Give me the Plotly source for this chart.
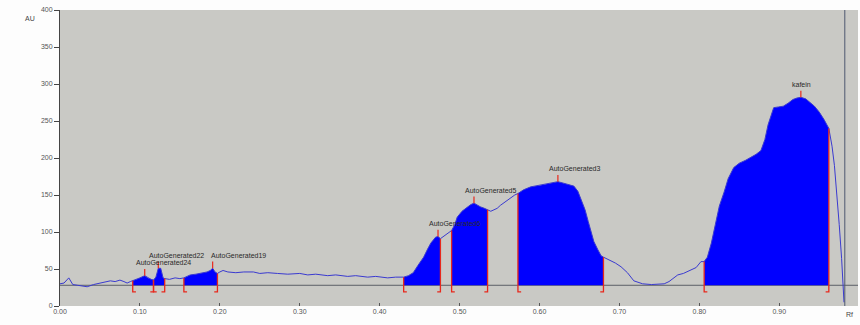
import numpy as np
import plotly.graph_objects as go

# ---- data ----
rf = [0.000, 0.005, 0.011, 0.016, 0.022, 0.028, 0.034, 0.042, 0.050, 0.057, 0.063, 0.069, 0.075, 0.080, 0.084, 0.088,
      0.091, 0.096, 0.100, 0.106, 0.110, 0.114, 0.117,
      0.120, 0.123, 0.126, 0.129, 0.131,
      0.137, 0.144, 0.150, 0.155,
      0.159, 0.163, 0.170, 0.175, 0.180, 0.184, 0.188, 0.191, 0.194, 0.197,
      0.200, 0.204, 0.210, 0.220, 0.230, 0.242, 0.250, 0.260, 0.272, 0.285, 0.300, 0.310, 0.320, 0.335, 0.345,
      0.360, 0.370, 0.385, 0.395, 0.410, 0.420,
      0.430, 0.436, 0.442, 0.448, 0.455, 0.460, 0.464, 0.470, 0.473, 0.476,
      0.480, 0.485, 0.490,
      0.494, 0.497, 0.503, 0.510, 0.514, 0.518, 0.522, 0.526, 0.531, 0.535,
      0.539, 0.543, 0.547, 0.551, 0.557, 0.564, 0.569, 0.573,
      0.580, 0.589, 0.600, 0.610, 0.617, 0.623, 0.630, 0.637, 0.643, 0.648, 0.652, 0.657, 0.661, 0.665, 0.668,
      0.673, 0.677, 0.680,
      0.688, 0.695, 0.702, 0.710, 0.718, 0.724, 0.729, 0.740, 0.750, 0.756, 0.762, 0.768, 0.773, 0.780, 0.789,
      0.796, 0.802, 0.806,
      0.810, 0.815, 0.820, 0.825, 0.831, 0.836, 0.843, 0.850, 0.858, 0.865, 0.871, 0.877, 0.882, 0.886, 0.890,
      0.893, 0.899, 0.905, 0.911, 0.917, 0.922, 0.927, 0.933, 0.938, 0.944, 0.950, 0.956, 0.962,
      0.966, 0.969, 0.972, 0.975, 0.978, 0.980, 0.981]
au = [30, 31, 38, 29, 28, 27, 26, 29, 31, 32, 34, 33, 35, 33, 31, 33,
      34, 36, 38, 41, 38, 36, 35,
      39, 51, 51, 38, 37,
      36, 38, 37, 38,
      40, 42, 43, 44, 45, 46, 48, 51, 46, 44,
      46, 48, 46, 45, 46, 46, 44, 45, 44, 43, 44, 42, 43, 41, 42,
      40, 41, 39, 40, 38, 39,
      39, 41, 45, 55, 66, 77, 85, 93, 94, 91,
      94, 98, 102,
      110, 120, 128, 134, 137, 139, 136, 134, 132, 130,
      128, 130, 132, 136, 141, 147, 150, 152,
      157, 161, 163, 165, 166, 168, 166, 164, 162, 155, 145, 130, 114, 100, 87,
      76, 68, 66,
      62, 58, 53, 45, 34, 32, 30, 29, 29, 30, 33, 38, 42, 44, 48,
      52, 60, 60,
      66, 85, 110, 135, 154, 172, 187, 193, 197, 201, 205, 210, 225, 245, 258,
      268, 269, 270, 274, 279, 281, 282, 280, 276, 270, 262, 252, 240,
      216, 190, 154, 110, 64, 20, 5]

peak_names = ["AutoGenerated24", "AutoGenerated22", "AutoGenerated19", "AutoGenerated6",
              "AutoGenerated5", "AutoGenerated3", "kafein"]
peak_start = [0.091, 0.117, 0.155, 0.430, 0.490, 0.573, 0.806]
peak_end = [0.117, 0.131, 0.197, 0.476, 0.535, 0.680, 0.962]
peak_apex = [0.106, 0.123, 0.191, 0.473, 0.518, 0.623, 0.927]
baseline_au = 28
front_rf = 0.982

x_ticks = [0.00, 0.10, 0.20, 0.30, 0.40, 0.50, 0.60, 0.70, 0.80, 0.90]
y_ticks = [0, 50, 100, 150, 200, 250, 300, 350, 400]

# ---- drawing ----
X = np.array(rf)
Y = np.array(au, dtype=float)

def y_at(v):
    return float(Y[np.argmin(np.abs(X - v))])

RED = "#e8281c"
FONT = "Liberation Sans, Arial, sans-serif"

fig = go.Figure()

# baseline
fig.add_trace(go.Scatter(x=[X[0], 1.0], y=[baseline_au, baseline_au], mode="lines",
                         line=dict(color="#5a5e66", width=1), hoverinfo="skip", showlegend=False))

# filled peaks
for s, e in zip(peak_start, peak_end):
    m = (X >= s - 1e-9) & (X <= e + 1e-9)
    px_ = [s] + list(X[m]) + [e]
    py_ = [baseline_au] + list(Y[m]) + [baseline_au]
    fig.add_trace(go.Scatter(x=px_, y=py_, mode="lines", fill="toself", fillcolor="#0000ff",
                             line=dict(width=0, color="#0000ff"), hoverinfo="skip", showlegend=False))

# trace line
fig.add_trace(go.Scatter(x=X, y=Y, mode="lines", line=dict(color="#3a3ad0", width=1),
                         hoverinfo="skip", showlegend=False))

# boundary markers
bx, by = [], []
foot = 0.004
drop = 9
for s, e in zip(peak_start, peak_end):
    for b, d in ((s, 1), (e, -1)):
        bx += [b, b, b + d * foot, None]
        by += [y_at(b), baseline_au - drop, baseline_au - drop, None]
fig.add_trace(go.Scatter(x=bx, y=by, mode="lines", line=dict(color=RED, width=1.3),
                         hoverinfo="skip", showlegend=False))

# apex ticks
ax_, ay_ = [], []
for a in peak_apex:
    ax_ += [a, a, None]
    ay_ += [y_at(a), y_at(a) + 9, None]
fig.add_trace(go.Scatter(x=ax_, y=ay_, mode="lines", line=dict(color=RED, width=1.2),
                         hoverinfo="skip", showlegend=False))

# front line
fig.add_shape(type="line", x0=front_rf, x1=front_rf, y0=0, y1=1, yref="paper",
              line=dict(color="#4e5870", width=1))

# peak labels
for name, a in zip(peak_names, peak_apex):
    fig.add_annotation(x=a, y=y_at(a), text=name, showarrow=False, xanchor="left", yanchor="middle",
                       xshift=-4 if name == "AutoGenerated19" else -11, yshift=13,
                       font=dict(family=FONT, size=7, color="#2a2a2a"))

fig.add_annotation(x=-0.046, y=0.99, xref="paper", yref="paper", text="AU", showarrow=False,
                   font=dict(family=FONT, size=7, color="#444"))
fig.add_annotation(x=0.996, y=-0.047, xref="paper", yref="paper", text="Rf", showarrow=False,
                   font=dict(family=FONT, size=7, color="#444"))

fig.update_layout(
    width=860, height=325,
    margin=dict(l=60, r=2, t=10, b=19),
    paper_bgcolor="#fdfdfd", plot_bgcolor="#c9c9c5",
    showlegend=False,
    xaxis=dict(range=[0.0, 0.9985], tickvals=x_ticks, tickformat=".2f", showgrid=False,
               zeroline=False, ticks="inside", ticklen=3, tickcolor="#555",
               tickfont=dict(family=FONT, size=7, color="#555"), showline=False),
    yaxis=dict(range=[0, 400], tickvals=y_ticks, showgrid=False, zeroline=False,
               ticks="outside", ticklen=5, tickcolor="#444",
               tickfont=dict(family=FONT, size=7, color="#555"),
               showline=True, linecolor="#444", linewidth=1),
)

fig.write_html("out.html", config={"displayModeBar": False},
               post_script="document.body.style.margin='0';document.body.style.overflow='hidden';")
